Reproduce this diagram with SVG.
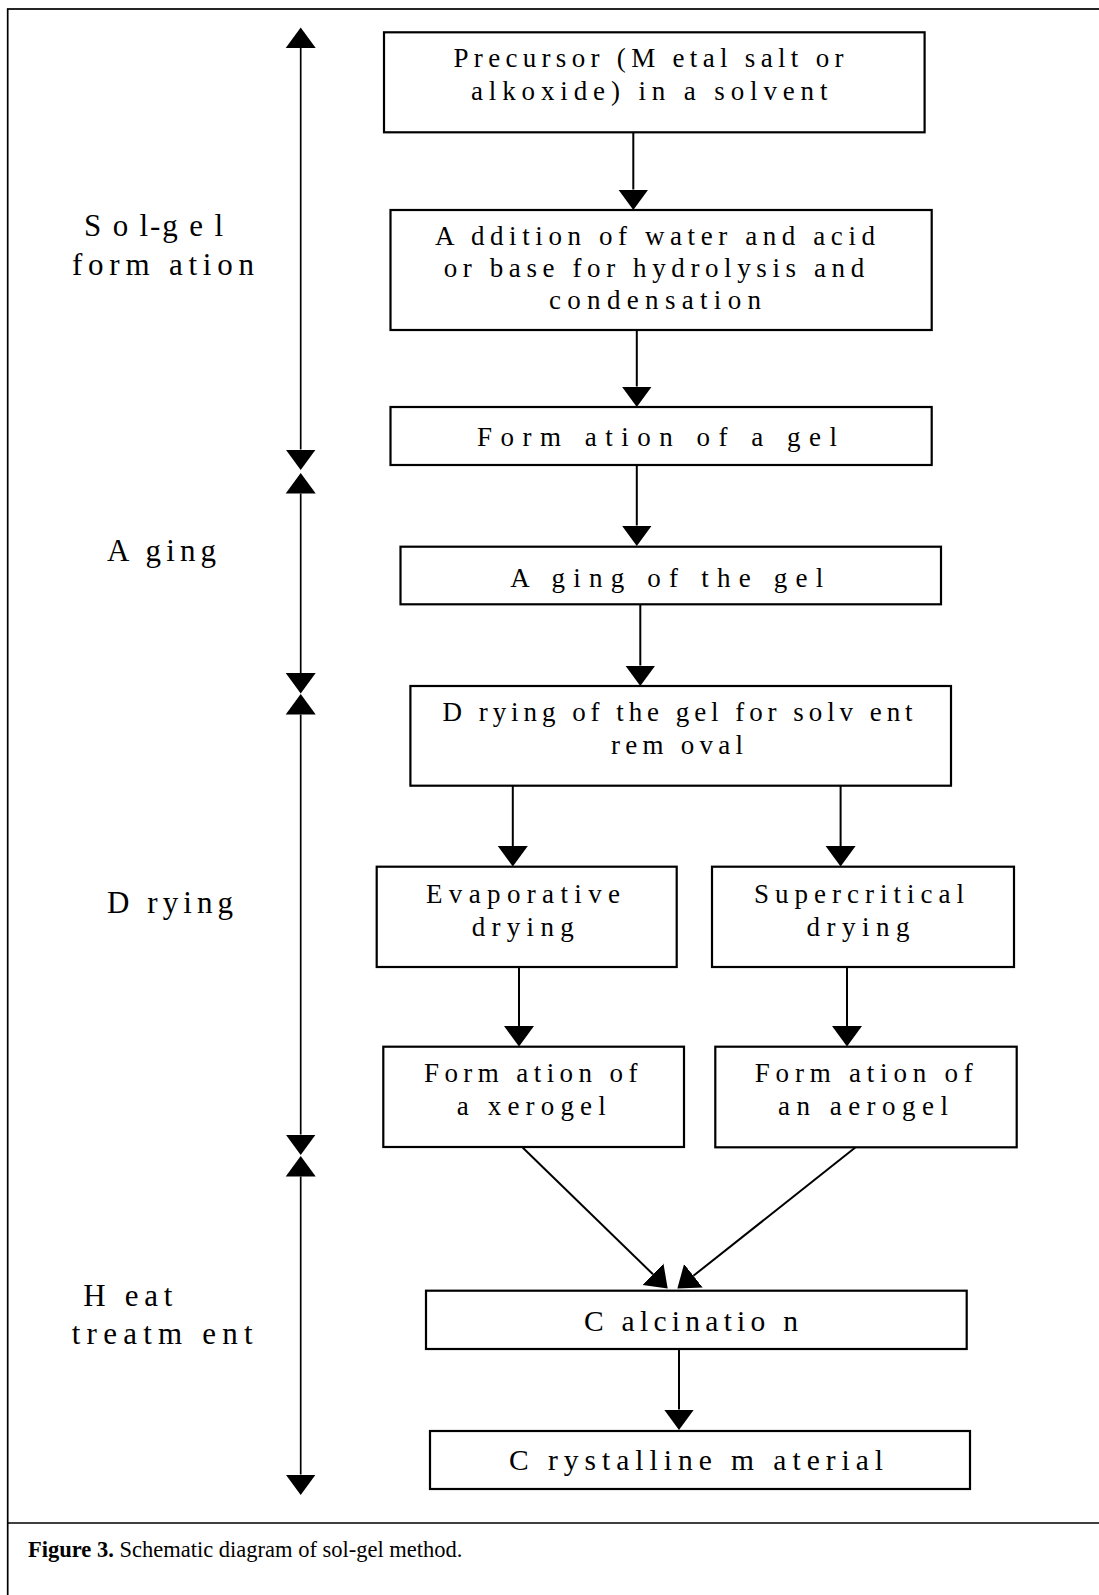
<svg xmlns="http://www.w3.org/2000/svg" width="1099" height="1595" viewBox="0 0 1099 1595">
<style>
.box{fill:#fff;stroke:#000;stroke-width:2.2}
.t{font-family:"Liberation Serif","Times New Roman",serif;font-size:27px;fill:#000}
.side{font-family:"Liberation Serif","Times New Roman",serif;font-size:31px;fill:#000}
.big{font-size:29.5px}
.cn{fill:none;stroke:#000;stroke-width:2}
.ax{fill:none;stroke:#000;stroke-width:1.7}
.frame{fill:none;stroke:#000;stroke-width:1.7}
.cap{font-family:"Liberation Serif","Times New Roman",serif;font-size:22.5px;fill:#000}
</style>
<defs>
<marker id="ah" markerUnits="userSpaceOnUse" markerWidth="21" markerHeight="31" viewBox="0 0 21 31" refX="0" refY="15.5" orient="auto-start-reverse">
<path d="M0,0.5 L20.5,15.5 L0,30.5 Z" fill="#000"/>
</marker>
</defs>
<rect width="1099" height="1595" fill="#fff"/>
<g id="frame">
<rect class="frame" x="7.7" y="9" width="1100" height="1600"/>
<line class="frame" x1="7.7" y1="1523" x2="1099" y2="1523"/>
</g>
<g id="stage-axis">
<line class="ax" x1="300.7" y1="48" x2="300.7" y2="449.5" marker-start="url(#ah)" marker-end="url(#ah)"/>
<line class="ax" x1="300.7" y1="493.5" x2="300.7" y2="673" marker-start="url(#ah)" marker-end="url(#ah)"/>
<line class="ax" x1="300.7" y1="714.5" x2="300.7" y2="1134.5" marker-start="url(#ah)" marker-end="url(#ah)"/>
<line class="ax" x1="300.7" y1="1176.5" x2="300.7" y2="1474.5" marker-start="url(#ah)"  marker-end="url(#ah)"/>
</g>
<g id="stage-labels">
<text class="side" x="84" y="236" textLength="139">S o l-g e l</text>
<text class="side" x="72" y="275" textLength="182">form ation</text>
<text class="side" x="107" y="560.7" textLength="109">A ging</text>
<text class="side" x="107" y="913" textLength="126">D rying</text>
<text class="side" x="83.3" y="1305.7" textLength="89">H eat</text>
<text class="side" x="71.7" y="1344" textLength="181">treatm ent</text>
</g>
<g id="connectors">
<line class="cn" x1="633.3" y1="132.3" x2="633.3" y2="189.5" marker-end="url(#ah)"/>
<line class="cn" x1="636.8" y1="330" x2="636.8" y2="386.5" marker-end="url(#ah)"/>
<line class="cn" x1="636.8" y1="465" x2="636.8" y2="525.5" marker-end="url(#ah)"/>
<line class="cn" x1="640.3" y1="604.5" x2="640.3" y2="665.5" marker-end="url(#ah)"/>
<line class="cn" x1="512.8" y1="786" x2="512.8" y2="846" marker-end="url(#ah)"/>
<line class="cn" x1="840.6" y1="786" x2="840.6" y2="846" marker-end="url(#ah)"/>
<line class="cn" x1="519" y1="967" x2="519" y2="1026" marker-end="url(#ah)"/>
<line class="cn" x1="847" y1="967" x2="847" y2="1026" marker-end="url(#ah)"/>
<line class="cn" x1="522.6" y1="1147.5" x2="653" y2="1274.3" marker-end="url(#ah)"/>
<line class="cn" x1="855.3" y1="1147.5" x2="693.4" y2="1275.8" marker-end="url(#ah)"/>
<line class="cn" x1="679" y1="1349" x2="679" y2="1409.5" marker-end="url(#ah)"/>
</g>
<g id="n-precursor">
<rect class="box" x="384" y="32.3" width="540.6" height="100"/>
<text class="t" x="453.5" y="66.7" textLength="390">Precursor (M etal salt or</text>
<text class="t" x="471" y="100" textLength="356.5">alkoxide) in a solvent</text>
</g>
<g id="n-addition">
<rect class="box" x="390.5" y="210" width="541.2" height="120"/>
<text class="t" x="435" y="245" textLength="440">A ddition of water and acid</text>
<text class="t" x="443.7" y="276.7" textLength="420.5">or base for hydrolysis and</text>
<text class="t" x="549" y="309.3" textLength="212">condensation</text>
</g>
<g id="n-formation-gel">
<rect class="box" x="390.5" y="407" width="541.2" height="58"/>
<text class="t" x="477" y="446" textLength="360">Form ation of a gel</text>
</g>
<g id="n-aging">
<rect class="box" x="400.5" y="546.7" width="540.5" height="57.6"/>
<text class="t" x="510.3" y="586.7" textLength="313">A ging of the gel</text>
</g>
<g id="n-drying">
<rect class="box" x="410.4" y="686" width="540.6" height="99.7"/>
<text class="t" x="442.6" y="721" textLength="470">D rying of the gel for solv ent</text>
<text class="t" x="611" y="754.3" textLength="132">rem oval</text>
</g>
<g id="n-evaporative">
<rect class="box" x="376.7" y="866.7" width="300" height="100.3"/>
<text class="t" x="426" y="903.3" textLength="194">Evaporative</text>
<text class="t" x="471.7" y="936" textLength="102">drying</text>
</g>
<g id="n-supercritical">
<rect class="box" x="712" y="866.7" width="302" height="100.3"/>
<text class="t" x="754" y="903" textLength="210">Supercritical</text>
<text class="t" x="806.6" y="936" textLength="103">drying</text>
</g>
<g id="n-xerogel">
<rect class="box" x="383.3" y="1046.7" width="300.7" height="100.3"/>
<text class="t" x="424" y="1081.7" textLength="213.5">Form ation of</text>
<text class="t" x="456.7" y="1115" textLength="149">a xerogel</text>
</g>
<g id="n-aerogel">
<rect class="box" x="715.3" y="1046.7" width="301.4" height="100.6"/>
<text class="t" x="754.8" y="1081.7" textLength="218">Form ation of</text>
<text class="t" x="778" y="1115" textLength="170">an aerogel</text>
</g>
<g id="n-calcination">
<rect class="box" x="426" y="1290.7" width="540.7" height="58.3"/>
<text class="t big" x="584" y="1331" textLength="214">C alcinatio n</text>
</g>
<g id="n-crystalline">
<rect class="box" x="430" y="1431" width="540" height="58"/>
<text class="t big" x="509" y="1470" textLength="374">C rystalline m aterial</text>
</g>
<g id="caption">
<text class="cap" x="28" y="1557"><tspan font-weight="bold">Figure 3.</tspan> Schematic diagram of sol-gel method.</text>
</g>
</svg>
